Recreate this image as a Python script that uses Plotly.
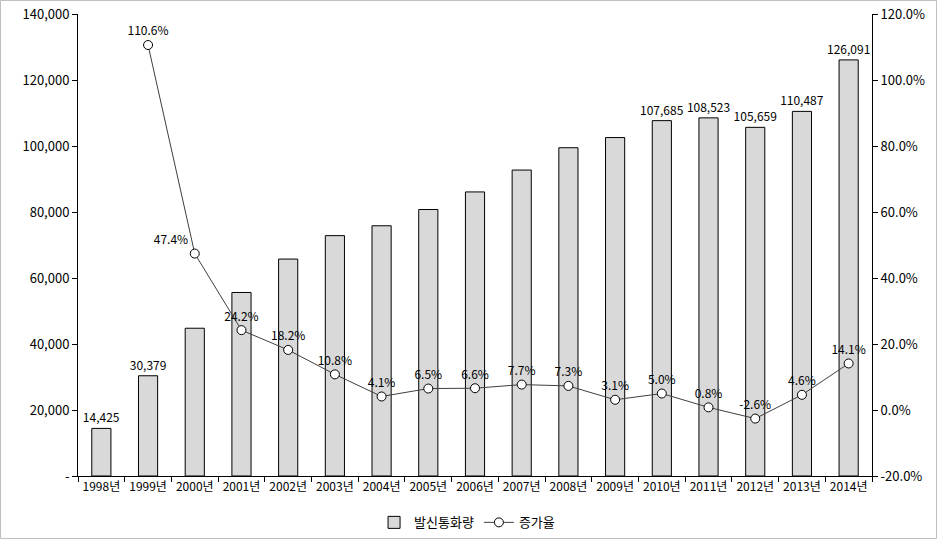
import plotly.graph_objects as go

years = [f"{y}년" for y in range(1998, 2015)]
calls = [14425, 30379, 44779, 55615, 65737, 72837, 75823, 80752, 86081,
         92709, 99477, 102561, 107685, 108523, 105659, 110487, 126091]
growth = [None, 110.6, 47.4, 24.2, 18.2, 10.8, 4.1, 6.5, 6.6,
          7.7, 7.3, 3.1, 5.0, 0.8, -2.6, 4.6, 14.1]
# only these bars carry a value label in the original
labelled_years = {"1998년", "1999년", "2010년", "2011년", "2012년", "2013년", "2014년"}

left_ticks = [0, 20000, 40000, 60000, 80000, 100000, 120000, 140000]
left_labels = ["-"] + [f"{v:,}" for v in left_ticks[1:]]
right_ticks = [-20, 0, 20, 40, 60, 80, 100, 120]

FONT = "Noto Sans CJK KR, DejaVu Sans, sans-serif"
W, H = 938, 540
L, R, T, B = 78, 66, 14, 64

bar_text = [f"{v:,}" if y in labelled_years else "" for y, v in zip(years, calls)]
line_text = ["" if g is None else f"{g:.1f}%" for g in growth]
line_pos = ["top center"] * len(years)
line_pos[2] = "top left"

fig = go.Figure()
fig.add_trace(
    go.Bar(
        x=years,
        y=calls,
        name="발신통화량",
        marker=dict(color="#d9d9d9", line=dict(color="black", width=1)),
        text=bar_text,
        textposition="outside",
        constraintext="none",
        textfont=dict(size=12, color="black", family=FONT),
        cliponaxis=False,
    )
)
fig.add_trace(
    go.Scatter(
        x=years,
        y=growth,
        name="증가율",
        yaxis="y2",
        mode="lines+markers+text",
        line=dict(color="#404040", width=1),
        marker=dict(symbol="circle", size=9, color="white", line=dict(color="black", width=1)),
        text=line_text,
        textposition=line_pos,
        textfont=dict(size=12, color="black", family=FONT),
        cliponaxis=False,
    )
)

pw = W - L - R
ph = H - T - B
fig.update_layout(
    width=W,
    height=H,
    margin=dict(l=L, r=R, t=T, b=B, autoexpand=False),
    paper_bgcolor="white",
    plot_bgcolor="white",
    font=dict(family=FONT, size=12, color="black"),
    bargap=0.59,
    showlegend=True,
    legend=dict(
        orientation="h",
        x=0.49,
        xanchor="center",
        y=-0.068,
        yanchor="top",
        font=dict(size=13),
    ),
    xaxis=dict(
        automargin=False,
        range=[-0.5, len(years) - 0.5],
        showline=True,
        linecolor="black",
        ticks="outside",
        tickson="boundaries",
        ticklen=5,
        tickcolor="black",
        tickangle=0,
        tickfont=dict(size=12),
        showgrid=False,
    ),
    yaxis=dict(
        automargin=False,
        range=[0, 140000],
        tickvals=left_ticks,
        ticktext=left_labels,
        showline=True,
        linecolor="black",
        ticks="outside",
        ticklen=5,
        tickcolor="black",
        showgrid=False,
        zeroline=False,
        tickfont=dict(size=13),
    ),
    yaxis2=dict(
        automargin=False,
        range=[-20, 120],
        tickvals=right_ticks,
        ticktext=[f"{v:.1f}%" for v in right_ticks],
        overlaying="y",
        side="right",
        showline=True,
        linecolor="black",
        ticks="outside",
        ticklen=5,
        tickcolor="black",
        showgrid=False,
        zeroline=False,
        tickfont=dict(size=13),
    ),
    shapes=[
        dict(
            type="rect",
            xref="paper",
            yref="paper",
            x0=-(L - 0.5) / pw,
            x1=1 + (R - 1.5) / pw,
            y0=-(B - 1.5) / ph,
            y1=1 + (T - 0.5) / ph,
            line=dict(color="#bfbfbf", width=1),
            fillcolor="rgba(0,0,0,0)",
            layer="below",
        )
    ],
)

# page body has a default 8px margin; drop it so the figure sits at the window's corner
fig.write_html(
    "out.html",
    config={"displayModeBar": False},
    post_script="document.body.style.margin='0';",
)
